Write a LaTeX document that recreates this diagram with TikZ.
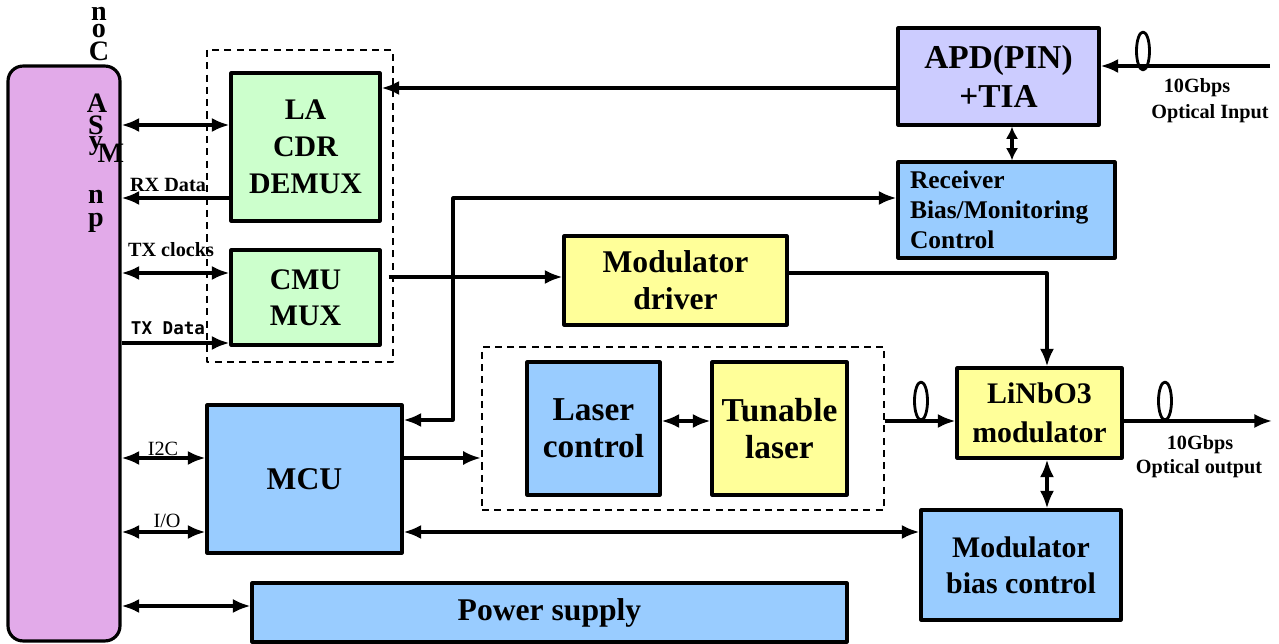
\documentclass[tikz,border=0pt]{standalone}
\usepackage{fontspec}
\setmainfont{Liberation Serif}
\newfontfamily\codefont{DejaVu Sans Mono}
\usetikzlibrary{arrows.meta}
\definecolor{conviolet}{RGB}{226,170,233}
\definecolor{rxgreen}{RGB}{204,255,204}
\definecolor{apdlav}{RGB}{204,204,255}
\definecolor{ctlblue}{RGB}{153,204,255}
\definecolor{optyellow}{RGB}{255,255,153}
\tikzset{
	blk/.style={draw, line width=1.8pt, align=center, inner sep=0pt, font=\bfseries\fontsize{18}{21}\selectfont},
	grpbox/.style={draw, line width=1.4pt, dash pattern=on 4pt off 3pt},
	wire/.style={line width=1.8pt},
	lbl/.style={inner sep=0pt, font=\bfseries\fontsize{11.5}{13}\selectfont},
	glyph/.style={inner sep=0pt, font=\bfseries\fontsize{16}{16}\selectfont}
}
\begin{document}
\begin{tikzpicture}[x=0.02cm, y=-0.02cm, >={Latex[length=10pt,width=8pt]}, line join=round]
	\useasboundingbox (0,0) rectangle (1279,644);
	% connector bar
	\node[blk, fill=conviolet, rounded corners=0.3cm, minimum width=2.24cm, minimum height=11.5cm] (con) at (64,353.5) {};
	\foreach \ch/\gx/\gy [count=\i] in {n/99/14, o/99/31, C/99/51, A/97/103, S/96/125, y/96/146, M/111/153, n/96/197, p/96/223}
		\node[glyph] (g\i) at (\gx,\gy) {\ch};
	% receiver / transmitter electronics
	\draw[grpbox] (207,50) rectangle (393,362);
	\node[blk, fill=rxgreen, minimum width=2.98cm, minimum height=2.96cm, font=\bfseries\fontsize{17}{21}\selectfont] (la) at (305.5,147) {LA\\CDR\\DEMUX};
	\node[blk, fill=rxgreen, minimum width=2.98cm, minimum height=1.9cm, font=\bfseries\fontsize{17}{20.5}\selectfont] (cmu) at (305.5,297.5) {CMU\\MUX};
	\node[blk, fill=apdlav, minimum width=4.02cm, minimum height=1.94cm, font=\bfseries\fontsize{19}{22}\selectfont] (apd) at (998.5,76.5) {APD(PIN)\\+TIA};
	\node[blk, fill=ctlblue, minimum width=4.34cm, minimum height=1.92cm, text width=3.86cm, align=left, font=\bfseries\fontsize{14.5}{17}\selectfont] (rcv) at (1006.5,210) {Receiver\\Bias/Monitoring\\Control};
	\node[blk, fill=optyellow, minimum width=4.46cm, minimum height=1.78cm] (drv) at (675.5,280.5) {Modulator\\driver};
	% laser group
	\node[grpbox, minimum width=8.04cm, minimum height=3.26cm] (grp) at (683,428.5) {};
	\node[blk, fill=ctlblue, minimum width=2.66cm, minimum height=2.66cm, font=\bfseries\fontsize{19}{21}\selectfont] (lc) at (593.5,428.5) {Laser\\control};
	\node[blk, fill=optyellow, minimum width=2.7cm, minimum height=2.66cm, font=\bfseries\fontsize{19}{21}\selectfont] (tl) at (779.5,428.5) {Tunable\\laser};
	\node[blk, fill=optyellow, minimum width=3.3cm, minimum height=1.8cm, font=\bfseries\fontsize{17}{22}\selectfont] (lin) at (1039.5,413) {LiNbO3\\modulator};
	\node[blk, fill=ctlblue, minimum width=3.9cm, minimum height=2.96cm] (mcu) at (304.5,479) {MCU};
	\node[blk, fill=ctlblue, minimum width=4cm, minimum height=2.2cm, font=\bfseries\fontsize{17}{20.5}\selectfont] (mbc) at (1021,565) {Modulator\\bias control};
	\node[blk, fill=ctlblue, minimum width=11.9cm, minimum height=1.18cm] (pwr) at (549.5,612.5) {Power supply};
	% optical ports
	\coordinate (optin) at (1270,66);
	\coordinate (optout) at (1272,421);
	% connectors
	\draw[wire,<->] (con.east |- 0,125) -- (la.west |- 0,125);
	\draw[wire,->] (la.west |- 0,198) -- (con.east |- 0,198);
	\draw[wire,<->] (con.east |- 0,273) -- (cmu.west |- 0,273);
	\draw[wire,->] (con.east |- 0,343) -- (cmu.west |- 0,343);
	\draw[wire,->] (apd.west |- 0,88) -- (la.east |- 0,88);
	\draw[wire,->] (optin) -- (apd.east |- 0,66);
	\draw[wire,{Latex[length=7pt,width=7pt]}-{Latex[length=7pt,width=7pt]}] (apd.south -| 1012,0) -- (rcv.north -| 1012,0);
	\draw[wire,<->] (mcu.east |- 0,420) -- (453,420) -- (453,198) -- (rcv.west |- 0,198);
	\draw[wire,->, shorten <=4pt] (cmu.east |- 0,277) -- (drv.west |- 0,277);
	\draw[wire,->] (drv.east |- 0,273) -- (1047,273) -- (lin.north -| 1047,0);
	\draw[wire,->] (mcu.east |- 0,458) -- (grp.west |- 0,458);
	\draw[wire,<->] (lc.east |- 0,421) -- (tl.west |- 0,421);
	\draw[wire,->] (grp.east |- 0,421) -- (lin.west |- 0,421);
	\draw[wire,->] (lin.east |- 0,421) -- (optout);
	\draw[wire,<->] (lin.south -| 1047,0) -- (mbc.north -| 1047,0);
	\draw[wire,<->] (mcu.east |- 0,532) -- (mbc.west |- 0,532);
	\draw[wire,<->] (con.east |- 0,458) -- (mcu.west |- 0,458);
	\draw[wire,<->] (con.east |- 0,532) -- (mcu.west |- 0,532);
	\draw[wire,<->] (con.east |- 0,606) -- (pwr.west |- 0,606);
	% fibre loops
	\draw[line width=1.6pt] (1143,51) ellipse [x radius=0.13cm, y radius=0.38cm];
	\draw[line width=1.6pt] (921,401) ellipse [x radius=0.13cm, y radius=0.38cm];
	\draw[line width=1.6pt] (1165,401) ellipse [x radius=0.13cm, y radius=0.38cm];
	% labels
	\node[lbl] (rxd) at (168,185) {RX Data};
	\node[lbl] (txc) at (171,250) {TX clocks};
	\node[lbl, font=\codefont\bfseries\fontsize{10}{12}\selectfont] (txd) at (168,328) {TX Data};
	\node[lbl, font=\fontsize{11.5}{13}\selectfont] (i2c) at (163,449) {I2C};
	\node[lbl, font=\fontsize{11.5}{13}\selectfont] (io) at (167,521) {I/O};
	\node[lbl] (inrate) at (1197,88) {10Gbps};
	\node[lbl] (intxt) at (1210,114) {Optical Input};
	\node[lbl] (outrate) at (1200,445) {10Gbps};
	\node[lbl] (outtxt) at (1199,469) {Optical output};
\end{tikzpicture}
\end{document}
